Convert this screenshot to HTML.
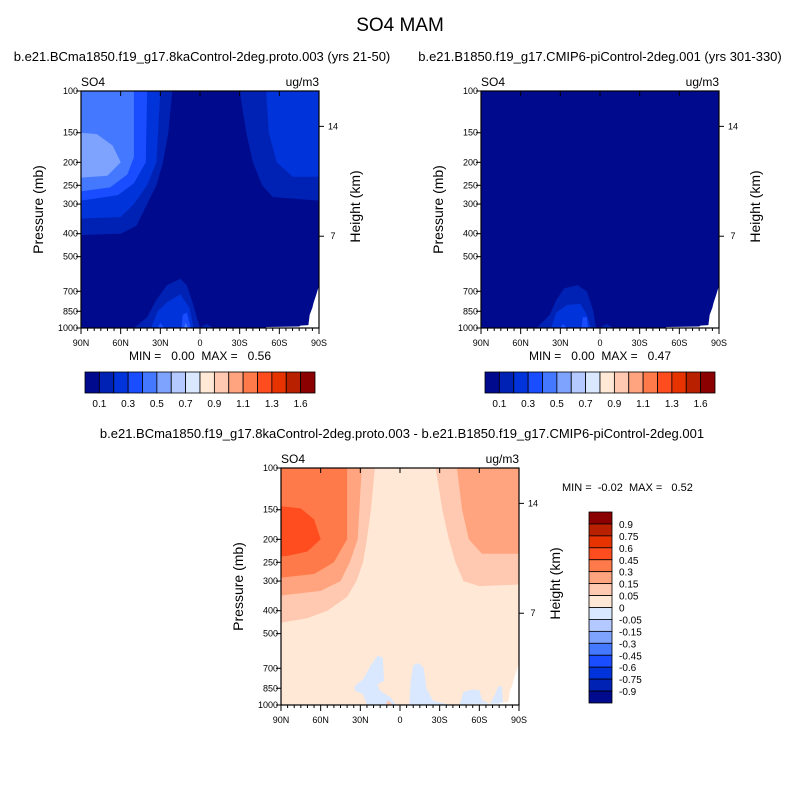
<!DOCTYPE html>
<html><head><meta charset="utf-8"><style>
body{margin:0;background:#fff}
svg{display:block;font-family:"Liberation Sans",sans-serif}
text{white-space:pre}
</style></head><body>
<svg id="s" width="800" height="800" viewBox="0 0 800 800">
<text x="400" y="31" font-size="19" text-anchor="middle">SO4 MAM</text>
<text x="202" y="61" font-size="13" text-anchor="middle">b.e21.BCma1850.f19_g17.8kaControl-2deg.proto.003 (yrs 21-50)</text>
<text x="600" y="61" font-size="13" text-anchor="middle">b.e21.B1850.f19_g17.CMIP6-piControl-2deg.001 (yrs 301-330)</text>
<text x="402" y="438" font-size="13" text-anchor="middle">b.e21.BCma1850.f19_g17.8kaControl-2deg.proto.003 - b.e21.B1850.f19_g17.CMIP6-piControl-2deg.001</text>
</svg>
<script>
const palette=["#000a8c","#0022b4","#0033d9","#1a4dff","#4479ff","#7ea3ff","#b3c9ff","#d9e8ff","#ffe8d5","#ffc8b0","#ffa47e","#ff7a4a","#ff4d1f","#e63300","#b82000","#8b0000"];
const pTicks=[100,150,200,250,300,400,500,700,850,1000];
const latTicks=[90,60,30,0,-30,-60,-90];
const latLabels=["90N","60N","30N","0","30S","60S","90S"];
const hTicks=[14,7];
const hTickP=[141,410];
const topCbLabels=["0.1","0.3","0.5","0.7","0.9","1.1","1.3","1.6"];
const diffCbLabels=["0.9","0.75","0.6","0.45","0.3","0.15","0.05","0","-0.05","-0.15","-0.3","-0.45","-0.6","-0.75","-0.9"];
const missing=[[-50,1000],[-50,990],[-75,986],[-76,977],[-82,972],[-83,880],[-85,820],[-86,780],[-88,720],[-89,690],[-90,670],[-90,1000]];
const panel1Regions=[
 [1,[[90,100],[21,100],[24,150],[28,200],[33,250],[40,300],[48,370],[60,400],[90,405]]],
 [2,[[90,100],[30,100],[33,200],[40,250],[50,300],[60,340],[90,345]]],
 [3,[[90,100],[40,100],[41,200],[50,245],[62,275],[90,290]]],
 [4,[[90,100],[50,100],[50,190],[55,225],[68,255],[90,265]]],
 [5,[[90,150],[78,152],[66,170],[60,200],[70,228],[90,232]]],
 [1,[[-90,100],[-30,100],[-35,150],[-40,200],[-47,250],[-55,280],[-90,290]]],
 [2,[[-90,100],[-50,100],[-52,150],[-58,200],[-70,230],[-90,230]]],
 [1,[[50,1000],[40,900],[33,760],[25,660],[15,620],[10,660],[5,800],[2,920],[0,1000]]],
 [1,[[0,1000],[-5,960],[-10,1000]]],
 [2,[[37,1000],[32,850],[25,780],[15,720],[8,820],[5,1000]]],
 [3,[[32,1000],[30,950],[27,1000]]],
 [3,[[14,1000],[13,880],[10,860],[8,950],[7,1000]]],
 [4,[[12,1000],[11,950],[9,1000]]]
];
const panel2Regions=[
 [1,[[48,1000],[38,880],[33,760],[27,680],[17,660],[10,700],[5,850],[3,1000]]],
 [1,[[0,1000],[-5,960],[-10,1000]]],
 [2,[[37,1000],[33,860],[25,800],[15,790],[10,880],[7,1000]]],
 [3,[[30,1000],[28,960],[25,1000]]],
 [3,[[14,1000],[13,900],[10,900],[9,1000]]]
];
const diffRegions=[
 [9,[[90,100],[19,100],[22,150],[25,200],[28,250],[33,300],[40,350],[55,400],[70,430],[90,450]]],
 [9,[[-90,100],[-27,100],[-32,150],[-37,200],[-42,250],[-48,300],[-60,315],[-90,310]]],
 [10,[[90,100],[29,100],[32,200],[38,250],[45,300],[60,330],[90,345]]],
 [10,[[-90,100],[-43,100],[-47,150],[-52,200],[-62,230],[-90,230]]],
 [11,[[90,100],[40,100],[40,200],[50,250],[65,280],[90,290]]],
 [12,[[90,145],[75,148],[65,165],[60,200],[70,225],[85,235],[90,236]]],
 [7,[[34,830],[28,780],[22,680],[17,620],[13,630],[12,790],[17,820],[15,870],[7,930],[3,1000],[25,1000],[28,900],[34,870]]],
 [7,[[-7,1000],[-8,800],[-10,680],[-14,665],[-18,700],[-20,850],[-25,960],[-35,990],[-40,1000]]],
 [7,[[-45,1000],[-48,880],[-55,860],[-60,865],[-62,950],[-68,990],[-72,900],[-74,840],[-77,830],[-78,980],[-80,1000]]],
 [9,[[11,1000],[9,955],[6,990],[5,1000]]]
];
const NS="http://www.w3.org/2000/svg";
const svg=document.getElementById('s');
function mk(tag,attrs,parent){const e=document.createElementNS(NS,tag);for(const k in attrs)e.setAttribute(k,attrs[k]);(parent||svg).appendChild(e);return e;}
function txt(x,y,s,size,anchor,parent){const t=mk('text',{x:x,y:y,'font-size':size,'text-anchor':anchor||'middle'},parent);t.textContent=s;return t;}
function panel(id,L,T,W,H,bg,regions){
 const g=mk('g',{});
 
 
 const xs=lat=>L+(90-lat)/180*W;
 const ys=p=>T+(Math.log10(p)-2)*H;
 mk('clipPath',{id:id+'c'},g).appendChild(mk('rect',{x:L,y:T,width:W,height:H}));
 const bgR=mk('rect',{x:L,y:T,width:W,height:H,fill:palette[bg]},g);
 
 
 regions.forEach((r,i)=>{
  const poly=mk('polygon',{points:r[1].map(q=>xs(q[0]).toFixed(1)+','+ys(q[1]).toFixed(1)).join(' '),fill:palette[r[0]],'clip-path':'url(#'+id+'c)'},g);
  
  
 });
 const ms=mk('polygon',{points:missing.map(q=>xs(q[0]).toFixed(1)+','+ys(q[1]).toFixed(1)).join(' '),fill:'#fff'},g);
 
 
 mk('rect',{x:L,y:T,width:W,height:H,fill:'none',stroke:'#000','stroke-width':1.2},g);
 pTicks.forEach(p=>{mk('line',{x1:L-5,x2:L,y1:ys(p),y2:ys(p),stroke:'#000'},g);
  const t=txt(L-3,ys(p)+3,String(p),9,'end',g);
  });
 for(let lat=90;lat>=-90;lat-=5){const maj=lat%30===0;
  mk('line',{x1:xs(lat),x2:xs(lat),y1:T+H,y2:T+H+(maj?6:3),stroke:'#000'},g);
  if(maj)mk('line',{x1:xs(lat),x2:xs(lat),y1:T,y2:T+5,stroke:'#000'},g);}
 latTicks.forEach((lat,i)=>{const t=txt(xs(lat),T+H+18,latLabels[i],9,'middle',g);
  });
 hTicks.forEach((h,i)=>{const y=ys(hTickP[i]);mk('line',{x1:L+W,x2:L+W+5,y1:y,y2:y,stroke:'#000'},g);
  const t=txt(L+W+14,y+3,String(h),9,'middle',g);
  });
 let t=txt(L,T-5,'SO4',12,'start',g);
 t=txt(L+W,T-5,'ug/m3',12,'end',g);
 t=txt(0,0,'Pressure (mb)',14,'middle',g);t.setAttribute('transform','translate('+(L-38)+','+(T+H/2)+') rotate(-90)');
 
 t=txt(0,0,'Height (km)',14,'middle',g);t.setAttribute('transform','translate('+(L+W+41)+','+(T+H/2-3)+') rotate(-90)');
 
}
function hbar(id,L,T,W,H){
 const g=mk('g',{});
 const bw=W/palette.length;
 palette.forEach((c,i)=>{const r=mk('rect',{x:L+i*bw,y:T,width:bw,height:H,fill:c,stroke:'#000','stroke-width':0.8},g);
  });
 topCbLabels.forEach((s,i)=>{const t=txt(L+(2*i+1)*bw,T+H+14,s,10,'middle',g);
  });
}
function vbar(id,L,T,W,H){
 const g=mk('g',{});
 const n=palette.length,bh=H/n;
 for(let i=0;i<n;i++){const r=mk('rect',{x:L,y:T+i*bh,width:W,height:bh,fill:palette[n-1-i],stroke:'#000','stroke-width':0.8},g);
  }
 diffCbLabels.forEach((s,i)=>{const t=txt(L+W+7,T+(i+1)*bh+4,s,10,'start',g);
  });
}
panel('panel1',81,91,238,237,0,panel1Regions);
panel('panel2',481,91,238,237,0,panel2Regions);
panel('diff',281,468,238,237,8,diffRegions);
hbar('panel1-colorbar',85,372,230,21);
hbar('panel2-colorbar',485,372,230,21);
vbar('diff-colorbar',589,512,23,191);
let t=txt(200,360,'MIN =   0.00  MAX =   0.56',12);
t=txt(600,360,'MIN =   0.00  MAX =   0.47',12);
t=txt(562,491,'MIN =  -0.02  MAX =   0.52',11,'start');
</script>
</body></html>
